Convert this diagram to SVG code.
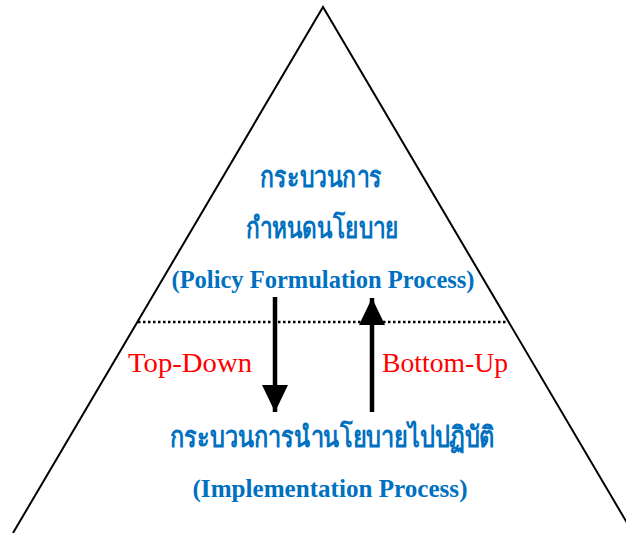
<svg xmlns="http://www.w3.org/2000/svg" width="626" height="533" viewBox="0 0 626 533">
  <style>
    .th { font-family: "Liberation Serif", "Noto Sans", serif; font-weight: bold; fill: #0070C0; font-size: 29px; }
    .blue { font-family: "Liberation Serif", serif; font-weight: bold; fill: #0070C0; font-size: 24.5px; }
    .red { font-family: "Liberation Serif", serif; fill: #FF0000; font-size: 28px; }
    .edge { stroke: #000; stroke-width: 4.5; fill: none; }
  </style>
  <defs>
    <marker id="head" markerUnits="userSpaceOnUse" viewBox="0 0 27 26" markerWidth="27" markerHeight="26" refX="27" refY="13" orient="auto">
      <path d="M0,0 L27,13 L0,26 Z" fill="#000"/>
    </marker>
  </defs>
  <rect width="626" height="533" fill="#fff"/>

  <!-- pyramid outline and level divider -->
  <g id="pyramid">
    <path d="M13,533 L323,7 L633,533" fill="none" stroke="#000" stroke-width="2"/>
    <line x1="138" y1="322" x2="507" y2="322" stroke="#000" stroke-width="2.5" stroke-dasharray="2.5,2.5"/>
  </g>

  <!-- upper level -->
  <g id="formulation">
    <text class="th" x="321" y="187" text-anchor="middle" textLength="122" lengthAdjust="spacingAndGlyphs">กระบวนการ</text>
    <text class="th" x="322" y="238" text-anchor="middle" textLength="153" lengthAdjust="spacingAndGlyphs">กำหนดนโยบาย</text>
    <text class="blue" x="323" y="288" text-anchor="middle" textLength="303" lengthAdjust="spacingAndGlyphs">(Policy Formulation Process)</text>
  </g>

  <!-- lower level -->
  <g id="implementation">
    <text class="th" x="332" y="447" text-anchor="middle" textLength="325" lengthAdjust="spacingAndGlyphs">กระบวนการนำนโยบายไปปฏิบัติ</text>
    <text class="blue" x="330" y="497" text-anchor="middle" textLength="275" lengthAdjust="spacingAndGlyphs">(Implementation Process)</text>
  </g>

  <g id="labels">
    <text class="red" x="128" y="372" textLength="124" lengthAdjust="spacingAndGlyphs">Top-Down</text>
    <text class="red" x="382" y="372" textLength="126" lengthAdjust="spacingAndGlyphs">Bottom-Up</text>
  </g>

  <!-- flow arrows -->
  <g id="connectors">
    <line class="edge" x1="275" y1="297" x2="275" y2="412" marker-end="url(#head)"/>
    <line class="edge" x1="372" y1="412" x2="372" y2="298" marker-end="url(#head)"/>
  </g>
</svg>
